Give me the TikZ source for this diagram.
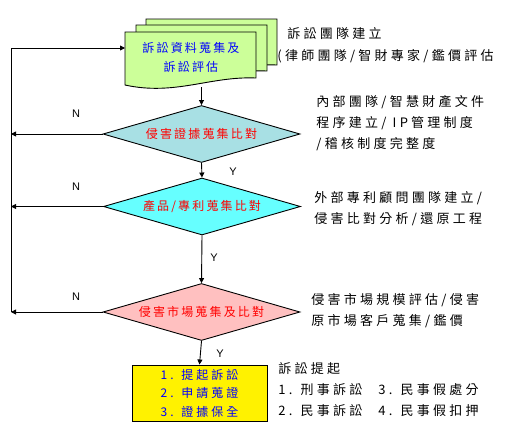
\documentclass[tikz,border=0pt]{standalone}
\usepackage{fontspec}
\setmainfont{Noto Sans CJK TC}
\newfontfamily\cjkw[LetterSpace=25]{Noto Sans CJK TC}
\newfontfamily\cjkn[LetterSpace=18]{Noto Sans CJK TC}
\newfontfamily\latf{Liberation Sans}
\usetikzlibrary{shapes.geometric,arrows.meta}
\definecolor{docgreen}{RGB}{204,255,153}
\definecolor{dteal}{RGB}{168,224,228}
\definecolor{dcyan}{RGB}{102,255,255}
\definecolor{dpink}{RGB}{255,192,192}
\definecolor{tblue}{RGB}{0,0,255}
\definecolor{tred}{RGB}{255,0,0}
\begin{document}
\begin{tikzpicture}[x=1pt,y=-1pt,
  line width=0.9pt,
  arr/.style={-{Triangle[length=5pt,width=5pt]}},
  dia/.style={diamond,draw,aspect=3.5,inner sep=0pt,minimum width=197pt,minimum height=57pt,
    font=\cjkn\fontsize{12}{14}\selectfont,text=tred},
  note/.style={align=left,anchor=north west,inner sep=0pt,font=\cjkw\fontsize{13}{21}\selectfont},
  yn/.style={font=\latf\fontsize{11}{13}\selectfont,inner sep=0pt},
  page/.style={fill=docgreen,draw}
]
\useasboundingbox (0,0) rectangle (512,426);
% document stack
\foreach \dx/\dy in {21/-13,11/-7,0/0}{
  \draw[page,shift={(125+\dx,32+\dy)}] (0,0) -- (131,0) -- (131,46)
    .. controls (85,44) and (50,64) .. (0,53) -- cycle;
}
\node[inner sep=0pt,minimum width=131pt,minimum height=50pt,anchor=north west,align=center,
  text=tblue,font=\cjkn\fontsize{12}{19}\selectfont] (doc) at (125,32) {訴訟資料蒐集及\\訴訟評估};
\coordinate (docbot) at (201,87);
\coordinate (docin) at (125,48);
\coordinate (lx) at (11,0);
% diamonds
\node[dia,fill=dteal] (d1) at (201.5,134) {侵害證據蒐集比對};
\node[dia,fill=dcyan] (d2) at (202,206.5) {產品/專利蒐集比對};
\node[dia,fill=dpink] (d3) at (201.5,312) {侵害市場蒐集及比對};
% action box
\node[draw,fill=yellow,minimum width=135pt,minimum height=56pt,inner sep=0pt,align=center,
  text=tblue,font=\cjkw\fontsize{12}{18.5}\selectfont] (box) at (199.5,393) {1. 提起訴訟\\2. 申請蒐證\\3. 證據保全};
% connectors
\draw[arr] (d1.north |- docbot) -- (d1.north);
\draw[arr] (d1.south) -- (d2.north);
\draw[arr] (d2.south) -- (d3.north);
\draw[arr] (d3.south) -- (box.north);
\draw[arr] (d1.west) -- (d1.west -| lx);
\draw[arr] (d2.west) -- (d2.west -| lx);
\draw[arr] (d3.west) -- (d3.west -| lx);
\draw[arr] (lx |- d3.west) -- (lx |- docin) -- (docin);
% Y / N labels
\node[yn] (n1) at (76,114) {N};
\node[yn] (n2) at (76,187) {N};
\node[yn] (n3) at (76,297) {N};
\node[yn] (y1) at (233,172) {Y};
\node[yn] (y2) at (214,258) {Y};
\node[yn] (y3) at (220,354) {Y};
% notes
\node[note] (t1) at (287,27) {訴訟團隊建立};
\node[note] (t1b) at (277,49) {(律師團隊/智財專家/鑑價評估};
\node[note] (t2) at (316,95) {內部團隊/智慧財產文件\\程序建立/ IP管理制度\\/稽核制度完整度};
\node[note] (t3) at (314,191) {外部專利顧問團隊建立/\\侵害比對分析/還原工程};
\node[note] (t4) at (311,293) {侵害市場規模評估/侵害\\原市場客戶蒐集/鑑價};
\node[note] (t5) at (278,362) {訴訟提起\\\makebox[100pt][l]{1. 刑事訴訟}3. 民事假處分\\\makebox[100pt][l]{2. 民事訴訟}4. 民事假扣押};
\end{tikzpicture}
\end{document}
